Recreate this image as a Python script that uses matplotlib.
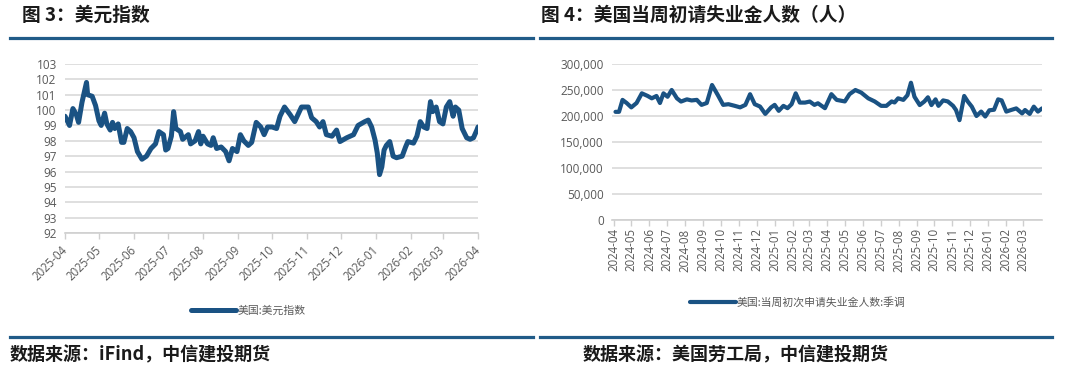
import numpy as np
import pandas as pd
import matplotlib
matplotlib.use("Agg")
import matplotlib.pyplot as plt
from matplotlib.lines import Line2D
from matplotlib.ticker import FuncFormatter

plt.rcParams['font.family'] = ['Open Sans', 'Noto Sans CJK SC', 'DejaVu Sans']
CJK = ['Noto Sans CJK SC', 'DejaVu Sans']

# ---- data: US dollar index (days after 2025-04-01) ----
usd_days = [0, 4, 7, 10, 12, 15, 19, 20, 24, 27, 30, 32, 35, 37, 40, 42, 44, 47, 50, 52,
            55, 58, 61, 64, 68, 72, 76, 80, 83, 87, 89, 91, 94, 96, 98, 102, 104, 109, 111, 115,
            118, 120, 122, 126, 129, 131, 134, 138, 142, 145, 148, 152, 155, 158, 162, 165, 169, 173, 176, 179,
            183, 187, 190, 194, 199, 203, 209, 215, 218, 222, 225, 228, 231, 236, 240, 243, 249, 255, 259, 265,
            268, 271, 274, 276, 278, 280, 282, 284, 287, 290, 293, 298, 301, 303, 308, 311, 314, 317, 320, 323,
            325, 328, 331, 334, 337, 340, 343, 345, 348, 351, 355, 358, 361, 364, 365]
usd_values = [99.6, 99.0, 100.1, 99.7, 99.2, 100.5, 101.8, 101.0, 100.9, 100.3, 99.3, 99.0, 99.8, 99.1, 98.7, 99.2, 98.8, 99.1, 97.9, 97.9,
              98.8, 98.6, 98.2, 97.3, 96.8, 97.0, 97.5, 97.8, 98.6, 98.4, 97.4, 97.5, 98.3, 99.9, 98.8, 98.6, 98.1, 98.4, 97.8, 98.0,
              98.6, 97.8, 98.3, 97.8, 97.7, 98.2, 97.5, 97.6, 97.3, 96.7, 97.5, 97.3, 98.4, 98.0, 97.7, 97.9, 99.2, 98.9, 98.4, 98.9,
              98.9, 98.8, 99.6, 100.2, 99.7, 99.25, 100.2, 100.2, 99.5, 99.25, 98.9, 99.25, 98.4, 98.3, 98.7, 97.95, 98.2, 98.4, 99.0, 99.25,
              99.35, 98.9, 98.05, 97.2, 95.8, 96.3, 97.4, 97.7, 97.95, 97.0, 96.9, 97.0, 97.6, 97.95, 97.85, 98.3, 99.25, 98.9, 98.8, 100.55,
              99.9, 100.2, 99.25, 99.1, 100.2, 100.55, 99.6, 100.2, 100.0, 98.8, 98.2, 98.1, 98.2, 98.7, 98.9]

# ---- data: US initial jobless claims, SA (days after 2024-04-01) ----
claims_days = [3, 9, 15, 22, 30, 39, 48, 58, 65, 73, 79, 85, 92, 99, 108, 115, 125, 133, 142, 150,
               159, 168, 178, 187, 196, 207, 216, 225, 233, 241, 250, 259, 269, 275, 282, 290, 297, 304, 311, 318,
               327, 335, 343, 349, 361, 372, 381, 395, 403, 413, 423, 435, 446, 457, 466, 475, 480, 486, 495, 502,
               508, 514, 523, 531, 537, 543, 550, 555, 563, 571, 580, 585, 591, 599, 605, 612, 620, 628, 635, 642,
               650, 657, 663, 671, 679, 688, 698, 703, 711, 718, 725, 732]
claims_values = [208000, 208000, 231000, 225000, 216600, 225000, 243600, 238500, 234000, 238500, 225000, 243600, 237000, 250000, 234000, 227800, 232000, 229900, 231000, 221400,
                 225000, 259600, 240000, 221400, 222700, 219500, 216600, 221400, 241900, 222700, 218200, 204000, 216600, 221400, 209900, 219500, 215000, 222700, 243600, 225800,
                 225800, 227800, 221400, 224500, 215000, 242000, 231000, 228000, 242000, 250000, 245000, 234000, 228000, 219500, 219500, 228000, 226000, 234000, 231000, 240000,
                 264000, 237000, 221000, 228000, 236000, 221000, 232000, 219500, 230000, 228000, 219500, 211500, 192000, 238500, 228000, 218000, 200000, 208500, 199000, 211000,
                 212000, 232000, 230000, 208500, 211500, 214600, 205000, 211500, 204000, 218000, 208500, 214600]

usd_dates = pd.Timestamp('2025-04-01') + pd.to_timedelta(usd_days, unit='D')
claims_dates = pd.Timestamp('2024-04-01') + pd.to_timedelta(claims_days, unit='D')

LINE = '#1a5283'
RULE = '#205b88'
GRID = '#d9d9d9'
TXT = '#595959'

fig = plt.figure(figsize=(10.8, 3.7), dpi=100)
W, H = 1080.0, 370.0

def fx(px):
    return px / W

def fy(py):
    return 1 - py / H

# titles, rules, sources
fig.text(fx(22), fy(15), '图 3：美元指数', family=CJK, fontsize=13.5, weight='bold',
         color='#1a1a1a', va='center', ha='left')
fig.text(fx(541), fy(15), '图 4：美国当周初请失业金人数（人）', family=CJK, fontsize=13.5, weight='bold',
         color='#1a1a1a', va='center', ha='left')
for x0, x1 in [(10, 533), (540, 1052)]:
    for yy in (38, 336.5):
        fig.add_artist(Line2D([fx(x0), fx(x1)], [fy(yy), fy(yy)], transform=fig.transFigure,
                              color=RULE, lw=2.3))
fig.text(fx(10), fy(355), '数据来源：iFind，中信建投期货', family=CJK, fontsize=13, weight='bold',
         style='italic', color='#1a1a1a', va='center', ha='left')
fig.text(fx(583), fy(355), '数据来源：美国劳工局，中信建投期货', family=CJK, fontsize=13, weight='bold',
         style='italic', color='#1a1a1a', va='center', ha='left')


def style_axes(ax):
    for s in ('top', 'right', 'left'):
        ax.spines[s].set_visible(False)
    ax.spines['bottom'].set_color('#cfcfcf')
    ax.spines['bottom'].set_linewidth(1.2)
    ax.yaxis.grid(True, color=GRID, lw=1.2)
    ax.set_axisbelow(True)
    ax.tick_params(axis='y', length=0, labelsize=8.5, labelcolor=TXT)
    ax.tick_params(axis='x', length=4, width=1, color='#cfcfcf', labelsize=8.3, labelcolor=TXT)


# ---- left: dollar index ----
ax1 = fig.add_axes([fx(65), fy(233), fx(413), 169 / H])
ax1.plot(usd_dates, usd_values, color=LINE, lw=3.6, solid_joinstyle='round',
         solid_capstyle='round', label='美国:美元指数')
ax1.set_ylim(92, 103)
ax1.set_yticks(np.arange(92, 104, 1))
ax1.set_xlim(pd.Timestamp('2025-04-01'), pd.Timestamp('2026-04-01'))
m1 = pd.date_range('2025-04-01', '2026-04-01', freq='MS')
ax1.set_xticks(m1)
ax1.set_xticklabels([d.strftime('%Y-%m') for d in m1], rotation=45, ha='right', va='center',
                    rotation_mode='anchor')
style_axes(ax1)
ax1.tick_params(axis='x', pad=7)
ax1.tick_params(axis='y', pad=6)
leg1 = ax1.legend(loc='center', bbox_to_anchor=(fx(248), fy(311)), bbox_transform=fig.transFigure,
                  frameon=False, handlelength=4.2, handletextpad=0.1, prop={'family': CJK, 'size': 7.8})
for t in leg1.get_texts():
    t.set_color(TXT)

# ---- right: initial jobless claims ----
ax2 = fig.add_axes([fx(612), fy(220), fx(430), 156 / H])
ax2.plot(claims_dates, claims_values, color=LINE, lw=3.0, solid_joinstyle='round',
         solid_capstyle='round', label='美国:当周初次申请失业金人数:季调')
ax2.set_ylim(0, 300000)
ax2.set_yticks(np.arange(0, 300001, 50000))
ax2.yaxis.set_major_formatter(FuncFormatter(lambda v, p: f'{v:,.0f}'))
ax2.set_xlim(pd.Timestamp('2024-03-29'), pd.Timestamp('2026-04-03'))
m2 = pd.date_range('2024-04-01', '2026-03-01', freq='MS')
ax2.set_xticks(m2)
ax2.set_xticklabels([d.strftime('%Y-%m') for d in m2], rotation=90, ha='center', va='top')
style_axes(ax2)
ax2.tick_params(axis='x', pad=2)
ax2.tick_params(axis='y', pad=6)
leg2 = ax2.legend(loc='center', bbox_to_anchor=(fx(798), fy(302.5)), bbox_transform=fig.transFigure,
                  frameon=False, handlelength=4.2, handletextpad=0.1, prop={'family': CJK, 'size': 7.8})
for t in leg2.get_texts():
    t.set_color(TXT)

fig.savefig('out.png', dpi=100)
